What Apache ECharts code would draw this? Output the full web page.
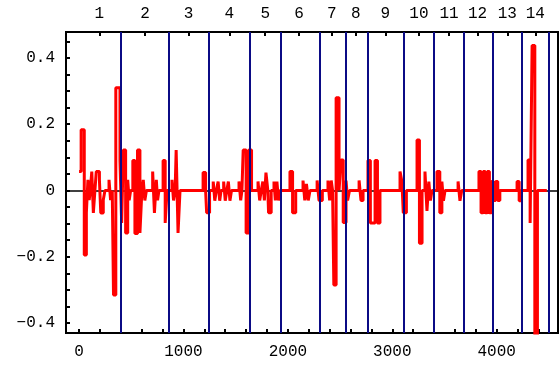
<!DOCTYPE html>
<html>
<head>
<meta charset="utf-8">
<script src="https://cdn.jsdelivr.net/npm/echarts@6/dist/echarts.min.js"></script>
<style>
html,body{margin:0;padding:0;background:#fff;}
#chart{width:559px;height:367px;}
</style>
</head>
<body>
<div id="chart"></div>
<script>
// Step signal: value stepY[i] holds from stepX[i] until stepX[i+1]
const stepX = [0,20,50,70,85,97,108, 122,137,152, 165,195,208,232,248, 287,302,318,
  330,352,392,408,424,446,466,480,494, 515,535,560,583,602, 615,630,645,
  705,722,740,752,765, 805,825,843, 890,905,920,930,948,967,
  1188,1212,1222,1250, 1285,1300,1315,1332,1347,1360, 1385,1400,1415,1430,1445,1460,
  1532,1548,1560,1572,1600,1625,1652, 1714,1730,1745,1760,1775,1790,1808,1815,1840,
  1867,1880,1895,1910,1925, 2020,2045,2075, 2145,2162,2178,2195,2212,
  2280,2298,2330, 2384,2400,2415,2428, 2440,2462,2490, 2509,2530,2557,2572,2590,
  2682,2700,2720, 2767,2790,2835,2858,2882, 3074,3092,3105,3135,
  3237,3260,3285, 3313,3332,3350,3365,3380, 3428,3455,3475,3490,3505,
  3630,3648,3665, 3830,3850,3870,3890,3910,3930,3950,3970,3990,4010,4030,
  4195,4215,4235, 4300,4320,4339,4365,4390, 4480];
const stepY = [0.057,0.183,-0.195,-0.068,0.032,-0.029,0, 0.057,-0.068,0, 0.057,0.032,-0.068,-0.029,0, 0.032,-0.029,0,
  -0.315,0.31,0.09,-0.098,0.122,-0.128,0.032,-0.03,0, 0.09,-0.13,0.122,-0.128,0, 0.032,-0.03,0,
  0.057,-0.068,0.032,-0.03,0, 0.09,-0.098,0, 0.032,-0.03,0,0.122,-0.128,0,
  0.054,0,-0.067,0, 0.027,-0.031,0,0.027,-0.031,0, 0.027,-0.031,0,0.027,-0.031,0,
  0.027,-0.03,0,0.122,-0.128,0.122,0, 0.027,-0.03,0,0.027,-0.03,0.054,0,-0.067,0,
  0.027,-0.03,0.027,-0.03,0, 0.057,-0.067,0, 0.03,-0.03,0.02,-0.03,0,
  0.03,-0.03,0, 0.03,-0.03,0.03,0, -0.285,0.28,0, 0.092,-0.097,0.03,-0.03,0,
  0.03,-0.03,0, 0.09,-0.098,0.09,-0.098,0, 0.057,0.027,-0.067,0,
  0.152,-0.159,0, 0.057,-0.062,0.027,-0.03,0, 0.057,-0.067,0.027,-0.031,0,
  0.027,-0.031,0, 0.057,-0.067,0.057,-0.067,0.057,-0.067,0.027,-0.03,0.027,-0.03,0,
  0.027,-0.031,0, 0.092,-0.098,0.437,-0.5,0, 0];

// Segment boundaries (blue vertical lines)
const boundaries = [397, 859, 1243, 1635, 1936, 2301, 2551, 2766, 3109, 3401, 3689, 3959, 4243, 4500];
// Top axis: segment number positions and labels
const topTickPos = [195, 632, 1049, 1440, 1783, 2106, 2420, 2650, 2934, 3255, 3544, 3816, 4101, 4370];
const topTickLabels = ['1','2','3','4','5','6','7','8','9','10','11','12','13','14'];
// Bottom axis
const xLabelVals = [0, 1000, 2000, 3000, 4000];
const xTickVals = [0,200,400,600,800,1000,1200,1400,1600,1800,2000,2200,2400,2600,2800,3000,3200,3400,3600,3800,4000,4200,4400];
// Left axis
const yLabelVals = [-0.4, -0.2, 0, 0.2, 0.4];
const yTickVals = [-0.4,-0.35,-0.3,-0.25,-0.2,-0.15,-0.1,-0.05,0,0.05,0.1,0.15,0.2,0.25,0.3,0.35,0.4,0.45];

const FONT = 'Liberation Mono';
const tickStyle = {show:true, inside:true, length:4, lineStyle:{color:'#000', width:2}};

const chart = echarts.init(document.getElementById('chart'), null, {renderer:'canvas'});
const lineData = stepX.map((x, i) => [x, stepY[i]]);

chart.setOption({
  animation: false,
  backgroundColor: '#fff',
  grid: {left:66, right:1, top:32, bottom:34, show:true, borderColor:'#000', borderWidth:2, backgroundColor:'transparent'},
  xAxis: [
    {type:'value', position:'bottom', min:-125, max:4587,
     axisLine:{show:false, onZero:false},
     axisTick:Object.assign({}, tickStyle, {customValues:xTickVals}),
     axisLabel:{customValues:xLabelVals, fontFamily:FONT, fontSize:16, color:'#000', margin:11,
       formatter:function(v){ return String(Math.round(v)); }},
     splitLine:{show:false}},
    {type:'value', position:'top', min:-125, max:4587,
     axisLine:{show:false, onZero:false},
     axisTick:Object.assign({}, tickStyle, {customValues:topTickPos}),
     axisLabel:{customValues:topTickPos, fontFamily:FONT, fontSize:16, color:'#000', margin:10,
       formatter:function(v){
         let best=0, bd=1e9;
         topTickPos.forEach((p,i)=>{const d=Math.abs(p-v); if(d<bd){bd=d;best=i;}});
         return topTickLabels[best];
       }},
     splitLine:{show:false}}
  ],
  yAxis: [
    {type:'value', position:'left', min:-0.43, max:0.478,
     axisLine:{show:false, onZero:false},
     axisTick:Object.assign({}, tickStyle, {customValues:yTickVals}),
     axisLabel:{customValues:yLabelVals, fontFamily:FONT, fontSize:16, color:'#000', margin:11,
       formatter:function(v){
         if (Math.abs(v) < 1e-9) return '0';
         return (v < 0 ? '\u2212' : '') + Math.abs(v).toFixed(1);
       }},
     splitLine:{show:false}}
  ],
  series: [
    {type:'line', data:[], z:1, silent:true,
     markLine:{z:1, silent:true, symbol:'none', label:{show:false},
       lineStyle:{type:'solid', color:'#000', width:1.5},
       data:[{yAxis:0}]}},
    {type:'line', data:lineData, step:'end', showSymbol:false, z:3, clip:true,
     lineStyle:{color:'#ff0000', width:3}},
    {type:'line', data:[], z:5, silent:true,
     markLine:{z:6, silent:true, symbol:'none', label:{show:false},
       lineStyle:{type:'solid', color:'#0b0b85', width:2},
       data: boundaries.map(b => ({xAxis:b}))}}
  ]
});
</script>
</body>
</html>
